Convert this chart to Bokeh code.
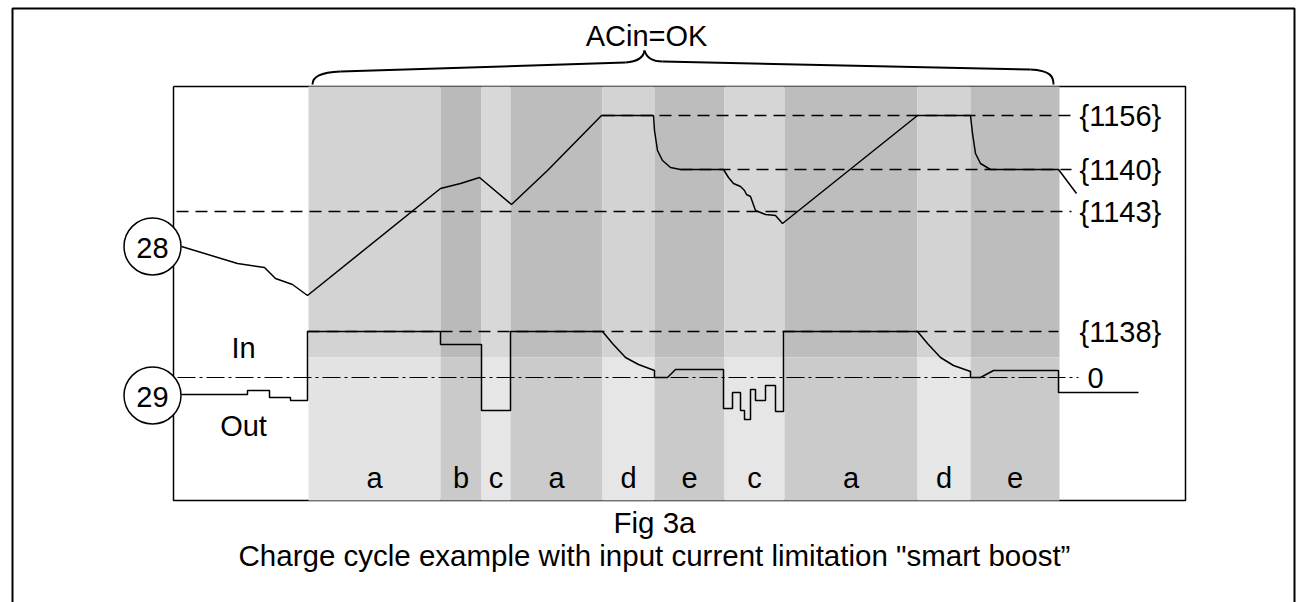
from bokeh.plotting import figure
from bokeh.models import Range1d
from bokeh.core.properties import value
from bokeh.embed import file_html
from bokeh.resources import INLINE

FONT = value("Liberation Sans")

# ---- phase bands (time axis in drawing units) ----
band_edges = [308, 440, 481, 510, 602, 654, 724, 784, 917, 970, 1059]
band_labels = ["a", "b", "c", "a", "d", "e", "c", "a", "d", "e"]
band_upper_colors = ["#d3d3d3", "#bababa", "#d8d8d8", "#bdbdbd", "#d3d3d3",
                     "#bdbdbd", "#d6d6d6", "#bdbdbd", "#d3d3d3", "#bdbdbd"]
band_lower_colors = ["#e3e3e3", "#cacaca", "#e6e6e6", "#cbcbcb", "#e6e6e6",
                     "#cacaca", "#e6e6e6", "#cbcbcb", "#e6e6e6", "#cacaca"]
band_top, band_split, band_bottom = 86, 357, 500

# ---- trace 28: battery voltage ----
volt_t = [181, 237, 264, 275, 292, 307, 440, 460, 479, 511, 547, 601, 653,
          654, 657, 662, 670, 680, 723, 728, 733, 740, 744, 746, 750, 755,
          765, 775, 782, 917, 970, 972, 975, 980, 990, 1058, 1076]
volt_v = [246, 263, 267, 278, 284, 295, 188, 183, 177, 204, 170, 115, 115,
          130, 150, 160, 167, 169, 169, 177, 183, 186, 190, 194, 196, 210,
          214, 215, 223, 115, 115, 133, 153, 163, 169, 169, 193]

# ---- trace 29: battery current ----
curr_t = [181, 247, 247, 269, 269, 290, 290, 307, 307, 440, 440, 481, 481,
          510, 510, 602, 612, 625, 638, 654, 654, 667, 675, 723, 723, 732,
          732, 740, 740, 744, 744, 750, 750, 755, 755, 765, 765, 775, 775,
          783, 783, 917, 927, 940, 953, 970, 970, 980, 993, 1058, 1058, 1138]
curr_v = [394, 394, 390, 390, 397, 397, 400, 400, 331, 331, 344, 344, 410,
          410, 331, 331, 343, 357, 364, 370, 377, 377, 369, 369, 408, 408,
          392, 392, 410, 410, 419, 419, 389, 389, 400, 400, 385, 385, 411,
          411, 331, 331, 343, 357, 365, 371, 377, 377, 370, 370, 392, 392]

# ---- reference levels ----
level_names = ["{1156}", "{1140}", "{1143}", "{1138}"]
level_y = [115, 169, 211, 331]
level_x0 = [602, 680, 176, 307]
level_x1 = [1071, 1071, 1071, 1058]
zero_y = 377

# ---- annotation brace (ACin=OK) ----
brace_lines_x = [[340, 625], [662, 1030]]
brace_lines_y = [[71, 62], [61, 69]]
brace_bz = dict(x0=[312, 625, 644, 1030], y0=[84, 62, 50, 69],
                x1=[340, 644, 662, 1053], y1=[71, 50, 61, 84],
                cx0=[312, 638, 646, 1050], cy0=[76, 61, 57, 70],
                cx1=[320, 643, 651, 1053], cy1=[72, 57, 61, 76])

p = figure(width=1296, height=602, x_range=Range1d(0, 1296), y_range=Range1d(602, 0),
           output_backend="svg", toolbar_location=None, x_axis_type=None, y_axis_type=None,
           min_border=0, min_border_left=0, min_border_right=0, min_border_top=0,
           min_border_bottom=0, outline_line_color=None, background_fill_color="white",
           border_fill_color="white")
p.grid.visible = False

# outer frame
p.line([12, 12, 1294, 1294], [620, 8, 8, 620], line_color="black", line_width=2)
# inner box
p.line([173, 1185, 1185, 173, 173], [86, 86, 500, 500, 86], line_color="black", line_width=1.5)

# bands
p.quad(left=band_edges[:-1], right=band_edges[1:], top=band_top, bottom=band_split,
       fill_color=band_upper_colors, line_color=None)
p.quad(left=band_edges[:-1], right=band_edges[1:], top=band_split, bottom=band_bottom,
       fill_color=band_lower_colors, line_color=None)

# reference lines
for x0, x1, y in zip(level_x0, level_x1, level_y):
    p.line([x0, x1], [y, y], line_color="black", line_width=1.5, line_dash="12 7")
p.line([177, 1078], [zero_y, zero_y], line_color="black", line_width=1.2, line_dash="18 4 3 4")

# traces
p.line(volt_t, volt_v, line_color="black", line_width=1.5)
p.line(curr_t, curr_v, line_color="black", line_width=1.5)

# brace
p.multi_line(brace_lines_x, brace_lines_y, line_color="black", line_width=2)
p.bezier(line_color="black", line_width=2, **brace_bz)

# markers 28 / 29
p.ellipse(x=[152, 152], y=[246, 395], width=57, height=57, fill_color="white",
          line_color="black", line_width=1.5)
p.text(x=[152, 152], y=[247, 396], text=["28", "29"], text_align="center",
       text_baseline="middle", text_font=FONT, text_font_size="29px", text_color="black")

# texts
p.text(x=[1079] * 4, y=level_y, text=level_names, text_align="left", text_baseline="middle",
       text_font=FONT, text_font_size="29px", text_color="black")
p.text(x=[1087], y=[zero_y], text=["0"], text_align="left", text_baseline="middle",
       text_font=FONT, text_font_size="29px", text_color="black")
p.text(x=[243, 243], y=[347, 425], text=["In", "Out"], text_align="center",
       text_baseline="alphabetic", text_font=FONT, text_font_size="29px", text_color="black")
mids = [(a + b) / 2 for a, b in zip(band_edges[:-1], band_edges[1:])]
p.text(x=mids, y=[477] * len(mids), text=band_labels, text_align="center",
       text_baseline="alphabetic", text_font=FONT, text_font_size="29px", text_color="black")
p.text(x=[646], y=[35], text=["ACin=OK"], text_align="center", text_baseline="alphabetic",
       text_font=FONT, text_font_size="29px", text_color="black")
p.text(x=[654, 654], y=[522, 555],
       text=["Fig 3a", 'Charge cycle example with input current limitation "smart boost\u201d'],
       text_align="center", text_baseline="alphabetic", text_font=FONT,
       text_font_size="29.5px", text_color="black")

open("out.html", "w").write(file_html(p, INLINE))
